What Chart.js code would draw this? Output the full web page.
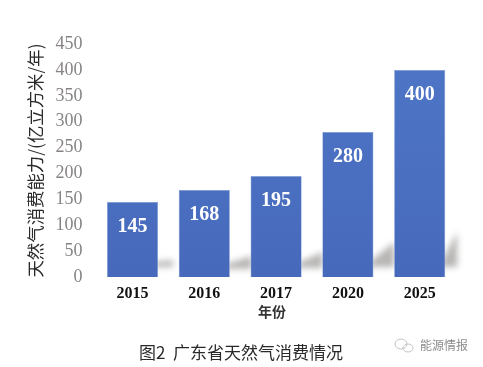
<!DOCTYPE html>
<html>
<head>
<meta charset="utf-8">
<style>
html, body { margin: 0; padding: 0; background: #fff; }
#chart { display: block; }
</style>
<script src="https://cdn.jsdelivr.net/npm/chart.js@4/dist/chart.umd.min.js"></script>
</head>
<body>
<div style="width:483px;height:367px"><canvas id="chart" width="483" height="367"></canvas></div>
<script>
const years = ['2015', '2016', '2017', '2020', '2025'];
const capacity = [145, 168, 195, 280, 400];
const yTicks = [0, 50, 100, 150, 200, 250, 300, 350, 400, 450];
const yTitle = '天然气消费能力/(亿立方米/年)';
const xTitle = '年份';
const caption = '图2  广东省天然气消费情况';
const watermark = '能源情报';

const cjk = '"Noto Sans CJK SC", sans-serif';
const serif = '"Liberation Serif", serif';

// soft grey shadow on the floor behind the bars: [length, rise at far end, rise of lower edge]
const shadowShape = [[15, 17, 10], [22, 21, 8], [21, 25, 9], [21, 35, 10], [12, 45, 10]];
const floorShadow = {
    id: 'floorShadow',
    beforeDatasetsDraw(chart) {
        const ctx = chart.ctx;
        const bars = chart.getDatasetMeta(0).data;
        const base = chart.scales.y.getPixelForValue(0);
        ctx.save();
        ctx.filter = 'blur(3px)';
        ctx.fillStyle = 'rgba(125,122,120,0.55)';
        bars.forEach(function (bar, i) {
            const right = bar.x + bar.width / 2;
            const s = shadowShape[i];
            ctx.beginPath();
            ctx.moveTo(right - 4, base - s[2]);
            ctx.lineTo(right - 4, base - s[2] - 5);
            ctx.lineTo(right + s[0], base - s[1]);
            ctx.lineTo(right + s[0], base - s[2]);
            ctx.closePath();
            ctx.fill();
        });
        ctx.restore();
    }
};

// value labels inside the bars, caption and watermark
const textLayer = {
    id: 'textLayer',
    afterDraw(chart) {
        const ctx = chart.ctx;
        const bars = chart.getDatasetMeta(0).data;
        ctx.save();
        ctx.textAlign = 'center';
        ctx.textBaseline = 'middle';
        ctx.fillStyle = '#fff';
        ctx.font = 'bold 20px ' + serif;
        bars.forEach(function (bar, i) {
            ctx.fillText(capacity[i], bar.x, bar.y + 25);
        });

        ctx.fillStyle = '#333';
        ctx.font = 'bold 14px ' + cjk;
        ctx.fillText(xTitle, 272, 312);

        ctx.textAlign = 'left';
        ctx.fillStyle = '#2a2a2a';
        ctx.font = '17px ' + cjk;
        ctx.fillText(caption, 139, 353);

        ctx.fillStyle = '#8c8c8c';
        ctx.font = '12px ' + cjk;
        ctx.fillText(watermark, 420, 345);

        ctx.strokeStyle = '#c4c4c4';
        ctx.lineWidth = 1;
        ctx.beginPath();
        ctx.ellipse(401, 344, 6, 5, 0, 0, Math.PI * 2);
        ctx.stroke();
        ctx.beginPath();
        ctx.ellipse(408, 348, 5, 4, 0, 0, Math.PI * 2);
        ctx.stroke();
        ctx.restore();
    }
};

new Chart(document.getElementById('chart'), {
    type: 'bar',
    data: {
        labels: years,
        datasets: [{
            data: capacity,
            backgroundColor: function (context) {
                const area = context.chart.chartArea;
                if (!area) return '#4a70c2';
                const g = context.chart.ctx.createLinearGradient(0, area.top, 0, area.bottom);
                g.addColorStop(0, '#4e76c6');
                g.addColorStop(1, '#4769bc');
                return g;
            },
            borderColor: '#7f9ad6',
            borderWidth: 0.6,
            barPercentage: 0.712,
            categoryPercentage: 1
        }]
    },
    options: {
        responsive: false,
        animation: false,
        layout: { padding: { top: 44, right: 27.4, bottom: 0, left: 0 } },
        plugins: { legend: { display: false }, tooltip: { enabled: false } },
        scales: {
            x: {
                grid: { display: false, drawTicks: false },
                border: { display: false },
                ticks: { color: '#111', padding: 7, font: { family: serif, size: 16, weight: 'bold' }, maxRotation: 0 },
                afterFit(scale) { scale.height = 90; }
            },
            y: {
                min: 0,
                max: 450,
                afterBuildTicks(scale) { scale.ticks = yTicks.map(v => ({ value: v })); },
                grid: { display: false, drawTicks: false },
                border: { display: false },
                ticks: { color: '#878383', padding: 14, font: { family: serif, size: 18 } },
                title: {
                    display: true,
                    text: yTitle,
                    color: '#2a2a2a',
                    padding: { top: 25, bottom: 0 },
                    font: { family: cjk, size: 17.4 }
                },
                afterFit(scale) { scale.width = 96.6; }
            }
        }
    },
    plugins: [floorShadow, textLayer]
});
</script>
</body>
</html>
